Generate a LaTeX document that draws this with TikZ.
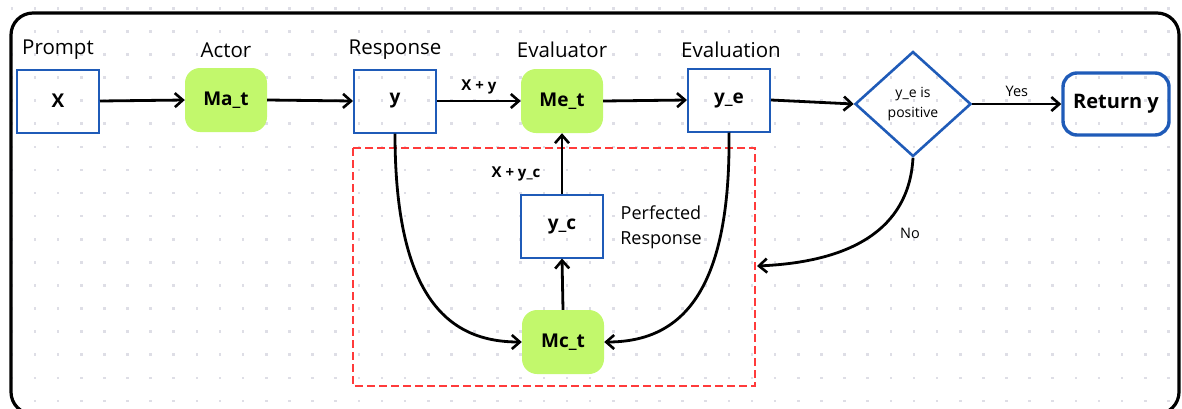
\documentclass[tikz,border=0pt]{standalone}
\usepackage{fontspec}
\setmainfont{Open Sans}
\usetikzlibrary{arrows.meta,shapes.geometric}
\definecolor{boxblue}{HTML}{1F5BB8}
\definecolor{lime}{HTML}{C2F86C}
\definecolor{dashred}{HTML}{FF3B3B}
\definecolor{dotgray}{HTML}{DEDEE6}
\tikzset{
  databox/.style={draw=boxblue, line width=2pt, minimum width=82pt, minimum height=63pt, inner sep=0pt, font=\fontsize{19}{21}\selectfont\bfseries},
  model/.style={fill=lime, rounded corners=15pt, minimum width=82pt, minimum height=64pt, inner sep=0pt, font=\fontsize{19}{21}\selectfont\bfseries},
  title/.style={font=\fontsize{20.5}{22}\selectfont},
  conn/.style={line width=2.8pt, -{Straight Barb[length=8pt,width=14pt,line width=2.6pt]}},
  small/.style={font=\fontsize{14.5}{16}\selectfont},
  smallbold/.style={font=\fontsize{15}{17}\selectfont\bfseries},
}
\begin{document}
\begin{tikzpicture}[x=1pt,y=-1pt]
\useasboundingbox (0,0) rectangle (1182,408);
% dot grid
\foreach \i in {-1,...,49}{
  \foreach \j in {-1,...,16}{
    \fill[dotgray] ({35+23.13*\i-1.3},{31.3+23.1*\j-1.3}) rectangle ++(2.6,2.6);
  }
}
% outer frame
\draw[line width=3.2pt, rounded corners=22pt] (11,13) rectangle (1179,414);
% red dashed region
\draw[dashred, line width=2.2pt, dash pattern=on 8pt off 4pt] (353,148) rectangle (755,386);

% nodes
\node[databox] (X) at (58,101) {X};
\node[model] (Ma) at (226,100) {Ma\_t};
\node[databox] (Y) at (395,101) {y};
\node[model] (Me) at (562,101) {Me\_t};
\node[databox] (YE) at (729,100) {y\_e};
\node[diamond, draw=boxblue, line width=2.6pt, minimum width=116pt, minimum height=105pt, inner sep=0pt, align=center, font=\fontsize{14}{20}\selectfont] (D) at (913,104) {y\_e is\\positive};
\node[draw=boxblue, line width=3.4pt, rounded corners=14pt, minimum width=106pt, minimum height=62pt, inner sep=0pt, font=\fontsize{20}{22}\selectfont\bfseries] (R) at (1116,104) {Return y};
\node[databox] (YC) at (562,226) {y\_c};
\node[model] (Mc) at (563,342) {Mc\_t};
\coordinate (redR) at (757,266);

% titles
\node[title] (tP) at (58,50) {Prompt};
\node[title] (tA) at (226,50) {Actor};
\node[title] (tR) at (395,50) {Response};
\node[title] (tE) at (562,50) {Evaluator};
\node[title] (tV) at (731,50) {Evaluation};

% connectors
\draw[conn] (X.east) -- (Ma.west);
\draw[conn] (Ma.east) -- (Y.west);
\draw[conn] (Y.east) -- node[above=2pt, smallbold] (lxy) {X + y} (Me.west);
\draw[conn] (Me.east) -- (YE.west);
\draw[conn] (YE.east) -- (D.west);
\draw[conn] (D.east) -- node[above=3pt, small] (lyes) {Yes} (R.west);
\draw[conn] (D.south) .. controls (909,230) and (850,262) .. (redR);
\node[small] (lno) at (910,233) {No};
\draw[conn] (Y.south) .. controls (395,300) and (450,342) .. (Mc.west);
\draw[conn] (YE.south) .. controls (731,300) and (676,342) .. (Mc.east);
\draw[conn] (Mc.north) -- (YC.south);
\draw[conn] (YC.north) -- (Me.south);
\node[smallbold] (lxyc) at (516,174) {X + y\_c};
\node[align=center, font=\fontsize{18}{25}\selectfont] (lpr) at (661,227) {Perfected\\Response};
\end{tikzpicture}
\end{document}
